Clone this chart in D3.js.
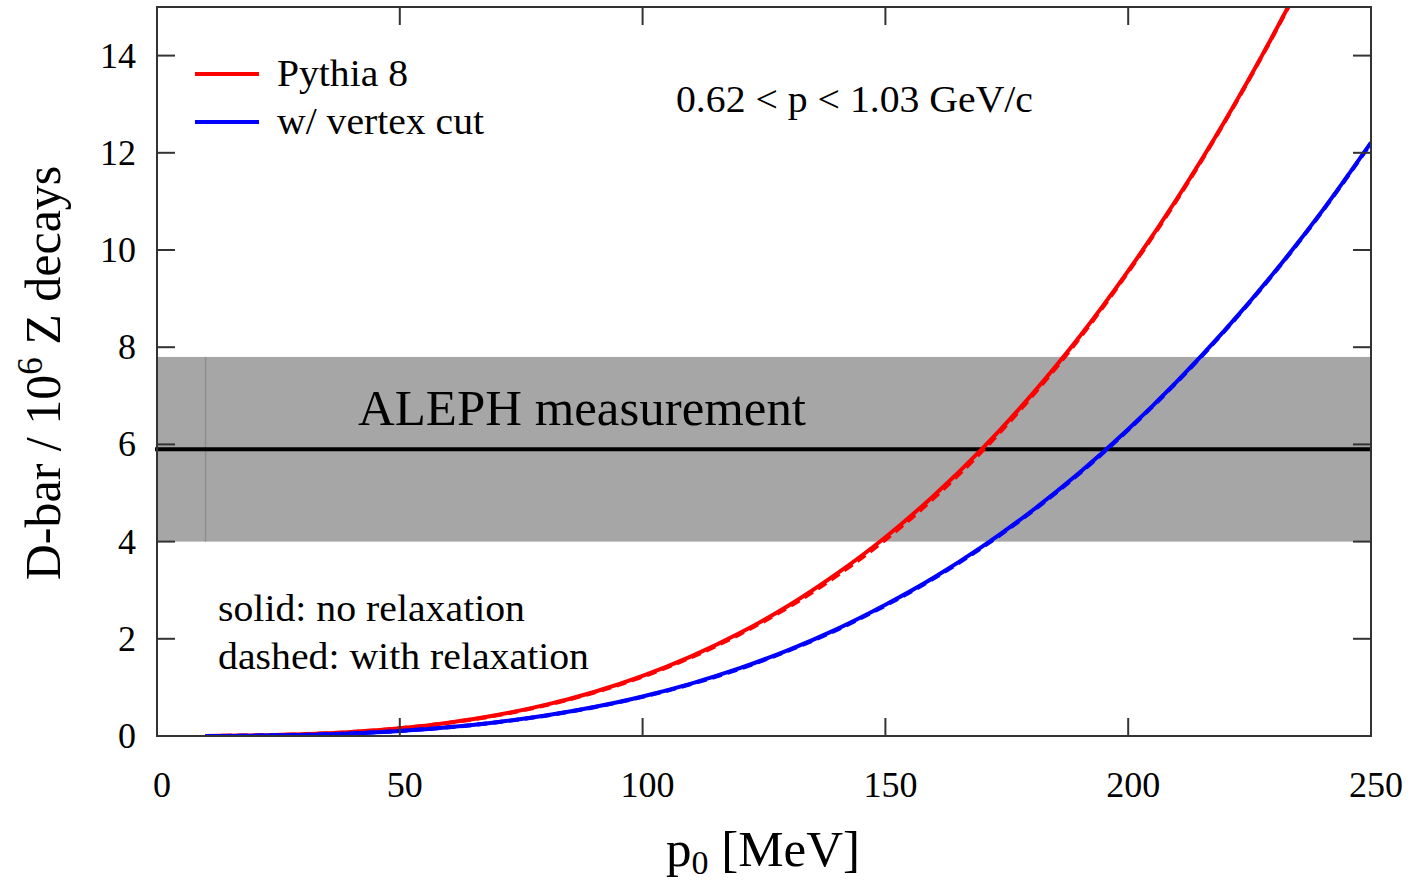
<!DOCTYPE html>
<html><head><meta charset="utf-8">
<script src="https://cdn.jsdelivr.net/npm/d3@7"></script>
<style>body{margin:0;background:#fff}svg{display:block}text{font-family:"Liberation Serif","DejaVu Serif",serif;fill:#000}</style>
</head><body><svg id="c" width="1414" height="888"></svg>
<script>
const momenta = [10,20,30,40,50,60,70,80,90,100,110,120,130,140,150,160,170,180,190,200,210,220,230,240,250];
const pythiaSolid = [0.001,0.011,0.035,0.083,0.16,0.274,0.431,0.64,0.906,1.236,1.638,2.118,2.68,3.34,4.09,4.95,5.92,7.01,8.22,9.57,11.05,12.67,14.45,16.39,18.5];
const pythiaDashed = [0.001,0.011,0.034,0.082,0.158,0.27,0.425,0.632,0.895,1.222,1.62,2.095,2.65,3.30,4.04,4.90,5.87,6.97,8.19,9.55,11.03,12.66,14.44,16.38,18.5];
const vertexSolid = [0.001,0.007,0.023,0.054,0.105,0.18,0.284,0.421,0.597,0.814,1.079,1.395,1.768,2.20,2.70,3.26,3.90,4.62,5.42,6.31,7.29,8.36,9.53,10.81,12.21];
const vertexDashed = [0.001,0.007,0.023,0.053,0.104,0.178,0.281,0.417,0.591,0.806,1.069,1.383,1.755,2.185,2.685,3.245,3.885,4.605,5.405,6.30,7.28,8.35,9.52,10.80,12.2];
const xTicks = [0,50,100,150,200,250];
const yTicks = [0,2,4,6,8,10,12,14];
const alephCentral = 5.9, alephLow = 4.0, alephHigh = 7.8, alephStart = 10;

const svg = d3.select("#c");
const L=157, R=1371, T=7, B=736;
const x = d3.scaleLinear().domain([0,250]).range([L,R]);
const y = d3.scaleLinear().domain([0,15]).range([B,T]);

svg.append("defs").append("clipPath").attr("id","clip").append("rect")
  .attr("x",L).attr("y",T).attr("width",R-L).attr("height",B-T);

// ALEPH band
svg.append("rect").attr("x",L).attr("y",y(alephHigh)).attr("width",R-L).attr("height",y(alephLow)-y(alephHigh)).attr("fill","#a6a6a6");
svg.append("line").attr("x1",x(alephStart)).attr("x2",x(alephStart)).attr("y1",y(alephHigh)).attr("y2",y(alephLow)).attr("stroke","#8e8e8e").attr("stroke-width",1.5);
svg.append("line").attr("x1",L-2).attr("x2",R+1).attr("y1",y(alephCentral)).attr("y2",y(alephCentral)).attr("stroke","#000").attr("stroke-width",4);

const line = d3.line().x((d,i)=>x(momenta[i])).y(d=>y(d)).curve(d3.curveMonotoneX);
const g = svg.append("g").attr("clip-path","url(#clip)");
const series = [
  {v:pythiaSolid,c:"#ff0000",dash:null},
  {v:pythiaDashed,c:"#ff0000",dash:"10,6"},
  {v:vertexSolid,c:"#0000ff",dash:null},
  {v:vertexDashed,c:"#0000ff",dash:"10,6"}
];
series.forEach(s=>{
  g.append("path").datum(s.v).attr("d",line).attr("fill","none").attr("stroke",s.c)
   .attr("stroke-width",4).attr("stroke-dasharray",s.dash);
});

// frame
svg.append("rect").attr("x",L).attr("y",T).attr("width",R-L).attr("height",B-T).attr("fill","none").attr("stroke","#333").attr("stroke-width",2);

// axes ticks inward
const tl=18;
const ax = svg.append("g");
xTicks.forEach(t=>{
  ax.append("line").attr("x1",x(t)).attr("x2",x(t)).attr("y1",B).attr("y2",B-tl).attr("stroke","#333").attr("stroke-width",2);
  ax.append("line").attr("x1",x(t)).attr("x2",x(t)).attr("y1",T).attr("y2",T+tl).attr("stroke","#333").attr("stroke-width",2);
  ax.append("text").attr("x",x(t)+5).attr("y",797).attr("text-anchor","middle").attr("font-size",36).text(t);
});
yTicks.forEach(t=>{
  ax.append("line").attr("x1",L).attr("x2",L+tl).attr("y1",y(t)).attr("y2",y(t)).attr("stroke","#333").attr("stroke-width",2);
  ax.append("line").attr("x1",R).attr("x2",R-tl).attr("y1",y(t)).attr("y2",y(t)).attr("stroke","#333").attr("stroke-width",2);
  ax.append("text").attr("x",136).attr("y",y(t)+12).attr("text-anchor","end").attr("font-size",36).text(t);
});

function label(xx, yy, size, txt, len){
  return svg.append("text").attr("x",xx).attr("y",yy).attr("font-size",size)
    .attr("textLength",len).attr("lengthAdjust","spacingAndGlyphs").text(txt);
}

// axis titles
const xt = svg.append("text").attr("x",763).attr("y",866).attr("text-anchor","middle").attr("font-size",51);
xt.append("tspan").text("p");
xt.append("tspan").attr("dy",8).attr("font-size",34).text("0");
xt.append("tspan").attr("dy",-8).text(" [MeV]");

const yt = svg.append("text").attr("transform","translate(60,373) rotate(-90)").attr("text-anchor","middle").attr("font-size",50);
yt.append("tspan").text("D-bar / 10");
yt.append("tspan").attr("dy",-18).attr("font-size",35).text("6");
yt.append("tspan").attr("dy",18).text(" Z decays");

// legend
[["Pythia 8","#ff0000",74,131],["w/ vertex cut","#0000ff",122,207]].forEach(([t,c,yy,len])=>{
  svg.append("line").attr("x1",195).attr("x2",259).attr("y1",yy).attr("y2",yy).attr("stroke",c).attr("stroke-width",4);
  label(277, yy+12, 37, t, len);
});

label(676, 112, 37, "0.62 < p < 1.03 GeV/c", 357);
label(358, 425, 50, "ALEPH measurement", 448);
label(218, 621, 37, "solid: no relaxation", 307);
label(218, 669, 37, "dashed: with relaxation", 371);
</script></body></html>
